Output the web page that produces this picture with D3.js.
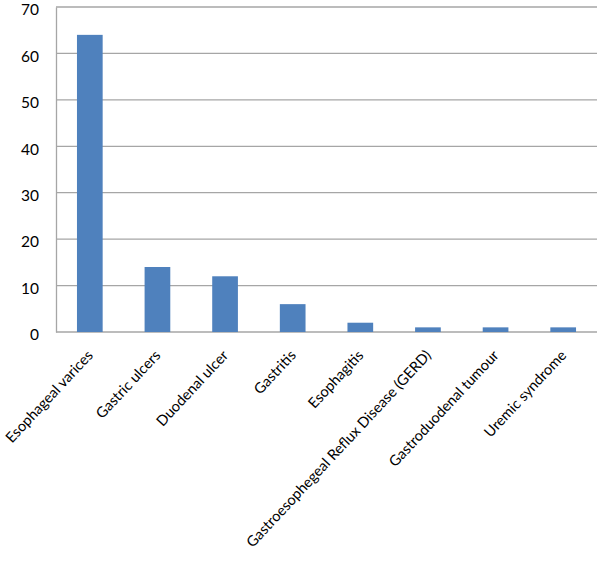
<!DOCTYPE html>
<html><head><meta charset="utf-8">
<script src="https://cdn.jsdelivr.net/npm/d3@7"></script>
<style>body{margin:0;background:#fff}text{font-family:Lato,"Open Sans",sans-serif}</style>
</head><body><svg id="c" width="600" height="575"></svg>
<script>
const categories = ["Esophageal varices","Gastric ulcers","Duodenal ulcer","Gastritis","Esophagitis","Gastroesophegeal Reflux Disease (GERD)","Gastroduodenal tumour","Uremic syndrome"];
const values = [64,14,12,6,2,1,1,1];
const yTicks = [0,10,20,30,40,50,60,70];

const svg = d3.select("#c");
const m = {l:56, r:597, t:7, b:332};
const x = d3.scaleBand().domain(categories).range([m.l, m.r]).paddingInner(0.62).paddingOuter(0.31);
const y = d3.scaleLinear().domain([0,70]).range([m.b, m.t]);

// gridlines
svg.append("g").selectAll("line").data(yTicks).join("line")
  .attr("x1", m.l).attr("x2", m.r)
  .attr("y1", d=>y(d)).attr("y2", d=>y(d))
  .attr("stroke", "#a6a6a6").attr("stroke-width", 1.3);

// y axis
const ya = svg.append("g").attr("transform", `translate(${m.l},0)`)
  .call(d3.axisLeft(y).tickValues(yTicks).tickSize(0).tickPadding(17));
ya.select(".domain").attr("stroke", "#a6a6a6").attr("stroke-width", 1.3);
ya.selectAll("text").attr("font-size", 15.5).attr("fill", "#000").attr("font-family", "Lato,sans-serif")
  .attr("dy", "0.5em");

// bars
svg.append("g").selectAll("rect").data(values).join("rect")
  .attr("x", (d,i)=>x(categories[i]))
  .attr("width", x.bandwidth())
  .attr("y", d=>y(d))
  .attr("height", d=>y(0)-y(d))
  .attr("fill", "#4f81bd");

// x labels
svg.append("g").selectAll("text").data(categories).join("text")
  .attr("transform", d=>`translate(${x(d)+x.bandwidth()/2+4},${m.b+24}) rotate(-47)`)
  .attr("text-anchor", "end")
  .attr("font-size", 14.6)
  .attr("fill", "#000")
  .text(d=>d);
</script></body></html>
